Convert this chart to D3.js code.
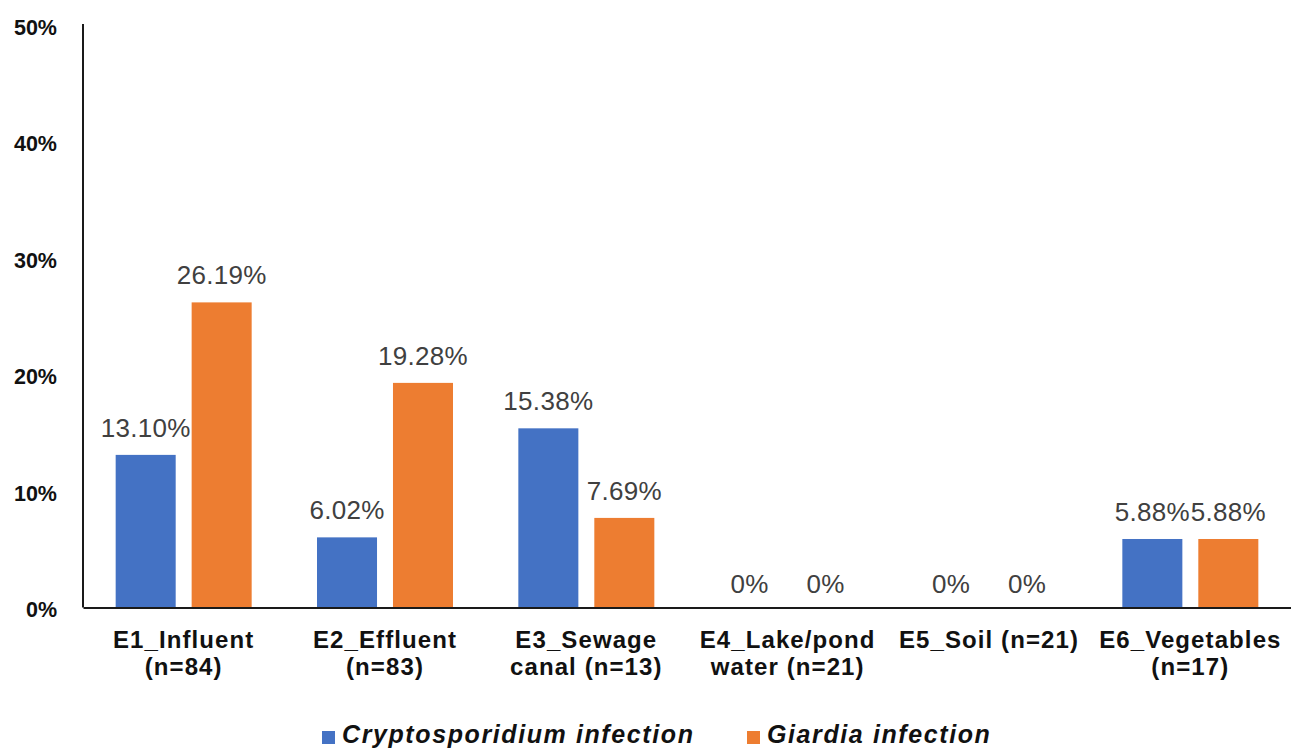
<!DOCTYPE html>
<html>
<head>
<meta charset="utf-8">
<script src="https://cdn.jsdelivr.net/npm/d3@7/dist/d3.min.js"></script>
<style>
  html, body { margin: 0; padding: 0; background: #fff; }
  svg { display: block; font-family: "Liberation Sans", Arial, sans-serif; }
</style>
</head>
<body>
<svg id="chart" width="1291" height="751"></svg>
<script>
// Sample groups (each label split into display lines)
const categories = ["E1", "E2", "E3", "E4", "E5", "E6"];
const categoryLabels = [
  ["E1_Influent", "(n=84)"],
  ["E2_Effluent", "(n=83)"],
  ["E3_Sewage", "canal (n=13)"],
  ["E4_Lake/pond", "water (n=21)"],
  ["E5_Soil (n=21)"],
  ["E6_Vegetables", "(n=17)"]
];
const seriesNames = ["Cryptosporidium infection", "Giardia infection"];
const cryptoValues = [13.10, 6.02, 15.38, 0, 0, 5.88];
const giardiaValues = [26.19, 19.28, 7.69, 0, 0, 5.88];
const yTicks = [0, 10, 20, 30, 40, 50];
const colors = ["#4472C4", "#ED7D31"];

const svg = d3.select("#chart");
const plotLeft = 83, plotRight = 1291, plotTop = 25, plotBottom = 607.5;

const x0 = d3.scaleBand().domain(categories).range([plotLeft, plotRight]).padding(0);
const x1 = d3.scaleBand().domain(seriesNames).range([0, x0.bandwidth()])
  .paddingInner(0.21).paddingOuter(0.43);
const y = d3.scaleLinear().domain([0, 50]).range([plotBottom, plotTop]);
const color = d3.scaleOrdinal().domain(seriesNames).range(colors);

const fmt = v => v === 0 ? "0%" : v.toFixed(2) + "%";

// y-axis tick labels
const yAxis = d3.axisLeft(y).tickValues(yTicks).tickFormat(d => d + "%").tickSize(0).tickPadding(26);
const gy = svg.append("g").attr("transform", `translate(${plotLeft},0)`).call(yAxis);
gy.select(".domain").remove();
gy.selectAll("text")
  .attr("dy", "0.42em")
  .style("font-size", "21.5px").style("font-weight", "bold").attr("fill", "#111");

// bars
const rows = categories.map((c, i) => ({
  cat: c,
  vals: [
    { s: seriesNames[0], v: cryptoValues[i] },
    { s: seriesNames[1], v: giardiaValues[i] }
  ]
}));

const groups = svg.append("g").selectAll("g").data(rows).join("g")
  .attr("transform", d => `translate(${x0(d.cat)},0)`);

groups.selectAll("rect").data(d => d.vals).join("rect")
  .attr("x", d => x1(d.s))
  .attr("width", x1.bandwidth())
  .attr("y", d => y(d.v))
  .attr("height", d => y(0) - y(d.v))
  .attr("fill", d => color(d.s));

groups.selectAll("text.val").data(d => d.vals).join("text")
  .attr("class", "val")
  .attr("x", d => x1(d.s) + x1.bandwidth() / 2)
  .attr("y", d => y(d.v) - (d.v === 0 ? 15 : 18))
  .attr("text-anchor", "middle")
  .style("font-size", "26px")
  .style("letter-spacing", "0.3px")
  .attr("fill", "#404040")
  .text(d => fmt(d.v));

// axis lines
svg.append("line").attr("x1", plotLeft).attr("x2", plotLeft).attr("y1", plotTop - 1).attr("y2", plotBottom)
  .attr("stroke", "#1a1a1a").attr("stroke-width", 2);
const xAxis = d3.axisBottom(x0).tickSize(0).tickFormat("");
const gx = svg.append("g").attr("transform", `translate(0,${plotBottom})`).call(xAxis);
gx.select(".domain").attr("stroke", "#1a1a1a").attr("stroke-width", 2);

// category labels
const catLab = svg.append("g").selectAll("text").data(categories).join("text")
  .attr("x", (d) => x0(d) + x0.bandwidth() / 2)
  .attr("y", 648)
  .attr("text-anchor", "middle")
  .style("font-size", "24px").style("font-weight", "bold")
  .style("letter-spacing", "1.1px")
  .attr("fill", "#111");
catLab.each(function(d, i) {
  const t = d3.select(this);
  categoryLabels[i].forEach((line, j) => {
    t.append("tspan").attr("x", x0(d) + x0.bandwidth() / 2)
      .attr("dy", j === 0 ? 0 : 27).text(line);
  });
});

// legend
const legendX = [322, 747];
const leg = svg.append("g").selectAll("g").data(seriesNames).join("g")
  .attr("transform", (d, i) => `translate(${legendX[i]},0)`);
leg.append("rect").attr("x", 0).attr("y", 731).attr("width", 13).attr("height", 13)
  .attr("fill", d => color(d));
leg.append("text").attr("x", 20).attr("y", 743)
  .style("font-size", "25px").style("font-weight", "bold").style("font-style", "italic")
  .style("letter-spacing", "1.6px")
  .attr("fill", "#111")
  .text(d => d);
</script>
</body>
</html>
